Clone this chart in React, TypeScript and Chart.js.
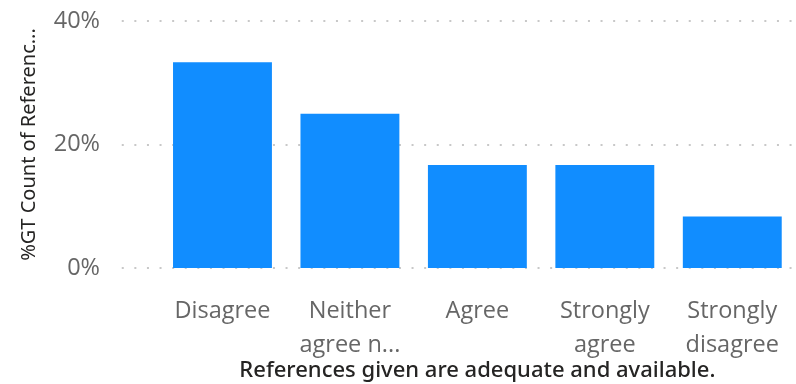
import React, { useEffect, useRef } from "react";
import { Chart, registerables } from "chart.js";

Chart.register(...registerables);

const categories: (string | string[])[] = [
  "Disagree",
  ["Neither", "agree n..."],
  "Agree",
  ["Strongly", "agree"],
  ["Strongly", "disagree"],
];
const percentValues: number[] = [33.33, 25.0, 16.67, 16.67, 8.33];
const yTicks: number[] = [0, 20, 40];
const yTitle = "%GT Count of Referenc...";
const xTitle = "References given are adequate and available.";

const LABEL_FONT = "'Open Sans', 'Noto Sans', sans-serif";
const TITLE_FONT = "'Noto Sans', 'DejaVu Sans', sans-serif";

const dottedGrid = {
  id: "dottedGrid",
  beforeDatasetsDraw(chart: any) {
    const { ctx, chartArea, scales } = chart;
    const y = scales.y;
    ctx.save();
    ctx.strokeStyle = "#c8c8c8";
    ctx.lineWidth = 2;
    ctx.setLineDash([2, 10.6]);
    for (const t of yTicks) {
      const py = Math.round(y.getPixelForValue(t));
      ctx.beginPath();
      ctx.moveTo(chartArea.left - 37, py);
      ctx.lineTo(chartArea.right - 3, py);
      ctx.stroke();
    }
    ctx.restore();
  },
};

export default function App() {
  const ref = useRef<HTMLCanvasElement | null>(null);
  useEffect(() => {
    if (!ref.current) return;
    const chart = new Chart(ref.current, {
      type: "bar",
      data: {
        labels: categories,
        datasets: [
          {
            data: percentValues,
            backgroundColor: "#118DFF",
            borderWidth: 0,
            barPercentage: 0.776,
            categoryPercentage: 1,
          },
        ],
      },
      options: {
        animation: false,
        responsive: false,
        devicePixelRatio: 1,
        layout: { padding: { top: 21, right: 0, left: 0, bottom: 0 } },
        plugins: {
          legend: { display: false },
          tooltip: { enabled: false },
        },
        scales: {
          x: {
            grid: { display: false, drawTicks: false },
            border: { display: false },
            ticks: {
              color: "#666666",
              padding: 27,
              maxRotation: 0,
              autoSkip: false,
              font: { family: LABEL_FONT, size: 23.5, weight: 400, lineHeight: 1.42 },
            },
            title: {
              display: true,
              text: xTitle,
              color: "#252423",
              font: { family: TITLE_FONT, size: 22, weight: 500, lineHeight: 1.2 },
              padding: { top: 0, bottom: 0 },
            },
            afterFit(scale: any) {
              scale.height = 116;
              scale.paddingLeft = 0;
              scale.paddingRight = 0;
            },
          },
          y: {
            min: 0,
            max: 40,
            grid: { display: false, drawTicks: false },
            border: { display: false },
            ticks: {
              stepSize: 20,
              color: "#666666",
              padding: 58.75,
              font: { family: LABEL_FONT, size: 23.5, weight: 400 },
              callback: (v: any) => v + "%",
            },
            title: {
              display: true,
              text: yTitle,
              color: "#252423",
              font: { family: TITLE_FONT, size: 20, weight: 400, lineHeight: 1.2 },
              padding: { top: 17, bottom: 0 },
            },
            afterFit(scale: any) {
              scale.width = 158.75;
              scale.paddingTop = 0;
              scale.paddingBottom = 0;
            },
          },
        },
      },
      plugins: [dottedGrid],
    });
    return () => chart.destroy();
  }, []);
  return (
    <div style={{ position: "fixed", left: 0, top: 0, width: 796, height: 384, background: "#fff" }}>
      <canvas ref={ref} width={796} height={384} style={{ width: 796, height: 384, display: "block" }} />
    </div>
  );
}
